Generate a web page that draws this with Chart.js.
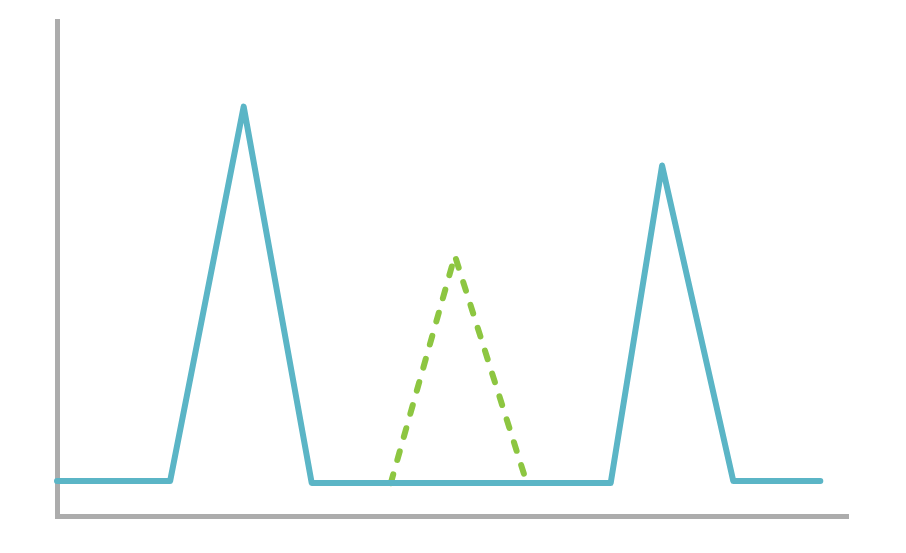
<!DOCTYPE html>
<html>
<head>
<meta charset="utf-8">
<script src="https://cdn.jsdelivr.net/npm/chart.js@4"></script>
<style>
  html, body { margin: 0; padding: 0; background: #ffffff; }
  #wrap { width: 906px; height: 553px; }
</style>
</head>
<body>
<div id="wrap"><canvas id="c" width="906" height="553"></canvas></div>
<script>
// Data (x in 0–100 units along the horizontal axis, y in 0–100 units)
const blueX = [0, 14.3, 23.6, 32.2, 70.0, 76.5, 85.5, 96.5];
const blueY = [7.06, 7.06, 82.7, 6.65, 6.65, 70.8, 7.06, 7.06];
const greenX = [42.2, 50.3, 59.4];
const greenY = [6.65, 52.6, 6.65];

const toPts = (xs, ys) => xs.map((x, i) => ({ x: x, y: ys[i] }));

new Chart(document.getElementById('c'), {
  type: 'scatter',
  data: {
    datasets: [
      {
        data: toPts(blueX, blueY),
        showLine: true,
        borderColor: '#5bb5c6',
        borderWidth: 6,
        pointRadius: 0,
        pointHoverRadius: 0,
        tension: 0,
        fill: false,
        clip: false,
        borderCapStyle: 'round',
        borderJoinStyle: 'round'
      },
      {
        data: toPts(greenX, greenY),
        showLine: true,
        borderColor: '#8dc641',
        borderWidth: 6,
        borderDash: [9, 15],
        borderCapStyle: 'round',
        borderJoinStyle: 'round',
        pointRadius: 0,
        pointHoverRadius: 0,
        tension: 0,
        fill: false,
        clip: false
      }
    ]
  },
  options: {
    responsive: false,
    animation: false,
    devicePixelRatio: 1,
    layout: { padding: { left: 57, top: 21, right: 58, bottom: 37 } },
    plugins: { legend: { display: false }, tooltip: { enabled: false } },
    scales: {
      x: {
        type: 'linear', min: 0, max: 100,
        ticks: { display: false },
        grid: { display: true, drawOnChartArea: false, drawTicks: false },
        border: { display: true, color: '#acacac', width: 5 }
      },
      y: {
        type: 'linear', min: 0, max: 100,
        ticks: { display: false },
        grid: { display: true, drawOnChartArea: false, drawTicks: false },
        border: { display: true, color: '#acacac', width: 5 }
      }
    }
  }
});
</script>
</body>
</html>
